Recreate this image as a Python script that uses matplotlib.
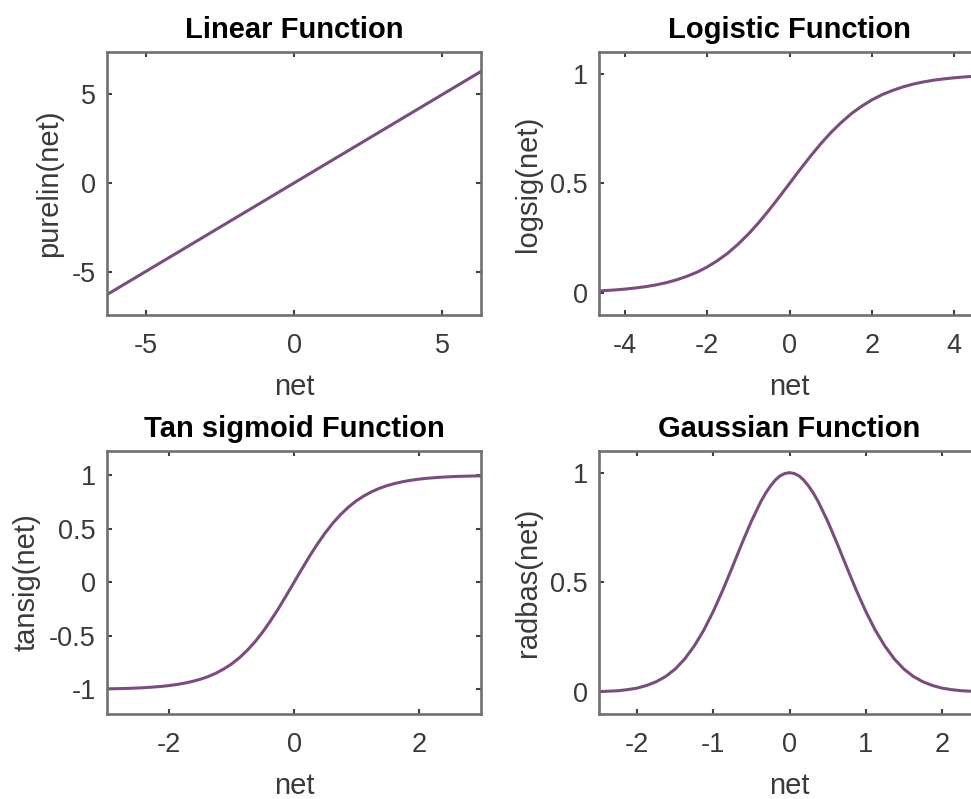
import matplotlib
matplotlib.use("Agg")
import matplotlib.pyplot as plt

# values
lin_net = [-6.3, 6.3]
lin_val = [-6.3, 6.3]

log_net = [-4.75, -4.5, -4.25, -4.0, -3.75, -3.5, -3.25, -3.0, -2.75, -2.5, -2.25, -2.0,
           -1.75, -1.5, -1.25, -1.0, -0.75, -0.5, -0.25, 0.0, 0.25, 0.5, 0.75, 1.0,
           1.25, 1.5, 1.75, 2.0, 2.25, 2.5, 2.75, 3.0, 3.25, 3.5, 3.75, 4.0, 4.25, 4.5, 4.75]
log_val = [0.009, 0.011, 0.014, 0.018, 0.023, 0.029, 0.037, 0.047, 0.060, 0.076, 0.095, 0.119,
           0.148, 0.182, 0.223, 0.269, 0.321, 0.378, 0.438, 0.500, 0.562, 0.622, 0.679, 0.731,
           0.777, 0.818, 0.852, 0.881, 0.905, 0.924, 0.940, 0.953, 0.963, 0.971, 0.977, 0.982,
           0.986, 0.989, 0.991]

tan_net = [-3.0, -2.875, -2.75, -2.625, -2.5, -2.375, -2.25, -2.125, -2.0, -1.875, -1.75,
           -1.625, -1.5, -1.375, -1.25, -1.125, -1.0, -0.875, -0.75, -0.625, -0.5, -0.375,
           -0.25, -0.125, 0.0, 0.125, 0.25, 0.375, 0.5, 0.625, 0.75, 0.875, 1.0, 1.125, 1.25,
           1.375, 1.5, 1.625, 1.75, 1.875, 2.0, 2.125, 2.25, 2.375, 2.5, 2.625, 2.75, 2.875, 3.0]
tan_val = [-0.995, -0.994, -0.992, -0.990, -0.987, -0.983, -0.978, -0.972, -0.964, -0.954,
           -0.941, -0.925, -0.905, -0.880, -0.848, -0.809, -0.762, -0.704, -0.635, -0.555,
           -0.462, -0.358, -0.245, -0.124, 0.0, 0.124, 0.245, 0.358, 0.462, 0.555, 0.635,
           0.704, 0.762, 0.809, 0.848, 0.880, 0.905, 0.925, 0.941, 0.954, 0.964, 0.972, 0.978,
           0.983, 0.987, 0.990, 0.992, 0.994, 0.995]

rad_net = [-2.5, -2.375, -2.25, -2.125, -2.0, -1.875, -1.75, -1.625, -1.5, -1.375, -1.25,
           -1.125, -1.0, -0.875, -0.75, -0.625, -0.5, -0.375, -0.3125, -0.25, -0.1875, -0.125,
           -0.0625, 0.0, 0.0625, 0.125, 0.1875, 0.25, 0.3125, 0.375, 0.5, 0.625, 0.75, 0.875,
           1.0, 1.125, 1.25, 1.375, 1.5, 1.625, 1.75, 1.875, 2.0, 2.125, 2.25, 2.375, 2.5]
rad_val = [0.002, 0.004, 0.006, 0.011, 0.018, 0.030, 0.047, 0.071, 0.105, 0.151, 0.210,
           0.282, 0.368, 0.465, 0.570, 0.677, 0.779, 0.869, 0.907, 0.939, 0.966, 0.985,
           0.996, 1.0, 0.996, 0.985, 0.966, 0.939, 0.907, 0.869, 0.779, 0.677, 0.570, 0.465,
           0.368, 0.282, 0.210, 0.151, 0.105, 0.071, 0.047, 0.030, 0.018, 0.011, 0.006,
           0.004, 0.002]

plt.rcParams['font.family'] = ['Liberation Sans', 'DejaVu Sans']
plt.rcParams['axes.unicode_minus'] = False

line_col = '#7b4c7f'
spine_col = '#707070'
text_col = '#3a3a3a'

fig = plt.figure(figsize=(9.71, 7.99), dpi=100)

panels = [
    # position, x, y, title, ylabel, xlim, ylim, xticks, yticks
    ([0.1102, 0.6058, 0.3852, 0.3292], lin_net, lin_val, 'Linear Function', 'purelin(net)',
     (-6.3, 6.3), (-7.45, 7.4), [-5, 0, 5], [-5, 0, 5]),
    ([0.6169, 0.6058, 0.3924, 0.3292], log_net, log_val, 'Logistic Function', 'logsig(net)',
     (-4.63, 4.63), (-0.1, 1.1), [-4, -2, 0, 2, 4], [0, 0.5, 1]),
    ([0.1102, 0.1064, 0.3852, 0.3295], tan_net, tan_val, 'Tan sigmoid Function', 'tansig(net)',
     (-3.0, 3.0), (-1.23, 1.23), [-2, 0, 2], [-1, -0.5, 0, 0.5, 1]),
    ([0.6169, 0.1064, 0.3924, 0.3295], rad_net, rad_val, 'Gaussian Function', 'radbas(net)',
     (-2.5, 2.5), (-0.1, 1.1), [-2, -1, 0, 1, 2], [0, 0.5, 1]),
]

for pos, xs, ys, title, ylab, xl, yl, xt, yt in panels:
    ax = fig.add_axes(pos)
    ax.plot(xs, ys, color=line_col, lw=2.2, solid_joinstyle='round')
    ax.set_xlim(xl)
    ax.set_ylim(yl)
    ax.set_xticks(xt)
    ax.set_yticks(yt)
    ax.set_xticklabels([('%g' % v) for v in xt])
    ax.set_yticklabels([('%g' % v) for v in yt])
    ax.set_title(title, fontsize=21, fontweight='bold', color='black', pad=10)
    ax.set_xlabel('net', fontsize=21, color=text_col, labelpad=10)
    ax.set_ylabel(ylab, fontsize=21, color=text_col, labelpad=6)
    for s in ax.spines.values():
        s.set_color(spine_col)
        s.set_linewidth(1.9)
    ax.tick_params(direction='in', top=True, right=True, length=3.5, width=1.5,
                   color='#404040', labelsize=19.5, labelcolor=text_col)
    ax.tick_params(axis='x', pad=13)
    ax.tick_params(axis='y', pad=8)

fig.savefig('out.png', dpi=100)
